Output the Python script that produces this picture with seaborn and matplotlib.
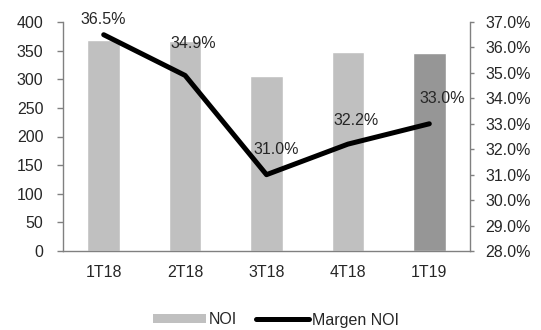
import numpy as np
import pandas as pd
import matplotlib
matplotlib.use("Agg")
import matplotlib.pyplot as plt
import seaborn as sns
from matplotlib.patches import Patch
from matplotlib.lines import Line2D
from matplotlib.ticker import FuncFormatter, MultipleLocator

# data
quarters = ["1T18", "2T18", "3T18", "4T18", "1T19"]
noi = [368, 366, 305, 348, 345]
margin = [36.5, 34.9, 31.0, 32.2, 33.0]

bar_colors = ["#C0C0C0", "#C0C0C0", "#C0C0C0", "#C0C0C0", "#969696"]
label_offsets = [(0, 11), (6, 23), (7, 18), (6, 17), (9, 18)]
axis_grey = "#808080"
fsize = 11.5

sns.set_style("white")
plt.rcParams["font.family"] = ["Liberation Sans", "DejaVu Sans"]
plt.rcParams["font.size"] = fsize

df = pd.DataFrame({"Quarter": quarters, "NOI": noi, "Margem": margin})

fig = plt.figure(figsize=(5.41, 3.30), dpi=100)
ax = fig.add_axes([63 / 541, 1 - 251 / 330, (470 - 63) / 541, (251 - 22) / 330])

sns.barplot(data=df, x="Quarter", y="NOI", hue="Quarter", palette=bar_colors,
            width=0.4, legend=False, ax=ax, saturation=1)
ax.set_ylim(0, 400)
ax.set_xlim(-0.5, len(quarters) - 0.5)
ax.yaxis.set_major_locator(MultipleLocator(50))
ax.set_xlabel("")
ax.set_ylabel("")

ax2 = ax.twinx()
sns.lineplot(x=np.arange(len(quarters)), y=margin, ax=ax2, color="black",
             linewidth=3.6, solid_capstyle="round", solid_joinstyle="round")
ax2.set_ylim(28, 37)
ax2.yaxis.set_major_locator(MultipleLocator(1))
ax2.yaxis.set_major_formatter(FuncFormatter(lambda v, p: f"{v:.1f}%"))
ax2.set_xlim(-0.5, len(quarters) - 0.5)

for i, (v, off) in enumerate(zip(margin, label_offsets)):
    ax2.annotate(f"{v:.1f}%", (i, v), xytext=off, textcoords="offset points",
                 ha="center", va="center", fontsize=fsize)

# Excel-like axes: ticks between categories
ax.set_xticks(np.arange(len(quarters)))
ax.set_xticklabels(quarters)
ax.set_xticks(np.arange(-0.5, len(quarters)), minor=True)
ax.tick_params(axis="x", which="major", length=0, pad=10)
ax.tick_params(axis="x", which="minor", length=5, color=axis_grey, width=1)
ax.tick_params(axis="y", length=4, color=axis_grey, width=1, left=True, pad=10)
ax2.tick_params(axis="y", length=3, color=axis_grey, width=1, right=True, pad=8)

for a in (ax, ax2):
    a.spines["top"].set_visible(False)
    for s in ("left", "right", "bottom"):
        a.spines[s].set_color(axis_grey)
        a.spines[s].set_linewidth(1)
ax.spines["right"].set_visible(False)
ax2.spines["left"].set_visible(False)
ax2.spines["bottom"].set_visible(False)

handles = [Patch(facecolor="#C0C0C0", edgecolor="none", label="NOI"),
           Line2D([0], [0], color="black", linewidth=3.6, label="Margen NOI")]
fig.legend(handles=handles, loc="center", bbox_to_anchor=(0.51, 1 - 320 / 330),
           ncol=2, frameon=False, handlelength=3.3, handleheight=0.5,
           handletextpad=0.2, columnspacing=1.2, fontsize=fsize)

fig.savefig("out.png", dpi=100)
